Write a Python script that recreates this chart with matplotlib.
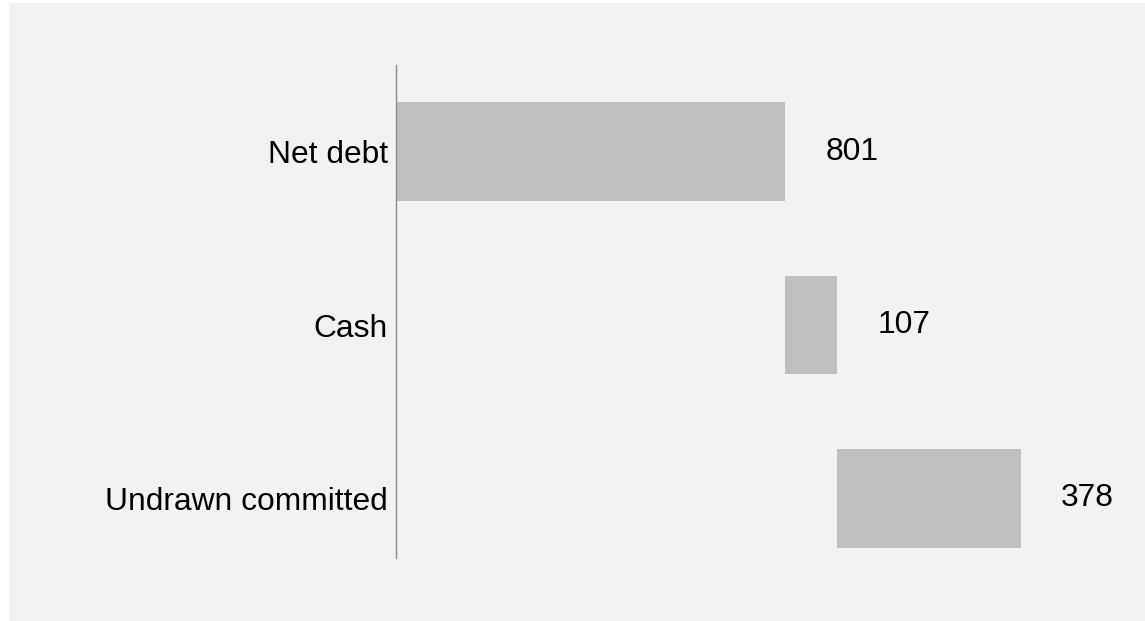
import numpy as np
import matplotlib
matplotlib.use("Agg")
import matplotlib.pyplot as plt
from matplotlib.patches import Rectangle

plt.rcParams['font.family'] = ['Liberation Sans', 'DejaVu Sans']

# datos
categorias = ["Net debt", "Cash", "Undrawn committed"]
valores = [801, 107, 378]
etiquetas = ["801", "107", "378"]

inicio = np.concatenate([[0], np.cumsum(valores)[:-1]])

W, H = 1145, 621
fig = plt.figure(figsize=(W / 100, H / 100), dpi=100)
fig.patch.set_facecolor("white")
# panel gris de fondo
fig.patches.append(Rectangle((9 / W, 0), 1 - 9 / W, (H - 3) / H,
                             transform=fig.transFigure, facecolor="#f2f2f2",
                             edgecolor="none", zorder=-10))

# ejes: x=396..1135 px, y=65..558 px
ax = fig.add_axes([396 / W, 1 - 558 / H, (1135 - 396) / W, (558 - 65) / H])
ax.set_facecolor("none")

y = np.arange(len(categorias))
ax.barh(y, valores, left=inicio, height=0.57, color="#bfbfbf", zorder=2)
for i in range(len(valores)):
    ax.annotate(etiquetas[i], xy=(inicio[i] + valores[i], y[i]),
                xytext=(29, 0), textcoords="offset points",
                ha="left", va="center", fontsize=22.9, color="black")

ax.set_xlim(0, 1521)
ax.set_ylim(2.343, -0.499)
ax.set_yticks(y)
ax.set_yticklabels(categorias, fontsize=22.9)
ax.tick_params(axis="y", length=0, pad=5.8)
ax.set_xticks([])
for s in ["top", "right", "bottom"]:
    ax.spines[s].set_visible(False)
ax.spines["left"].set_color("#8c8c8c")
ax.spines["left"].set_linewidth(1)

plt.savefig("out.png", dpi=100, facecolor=fig.get_facecolor())
